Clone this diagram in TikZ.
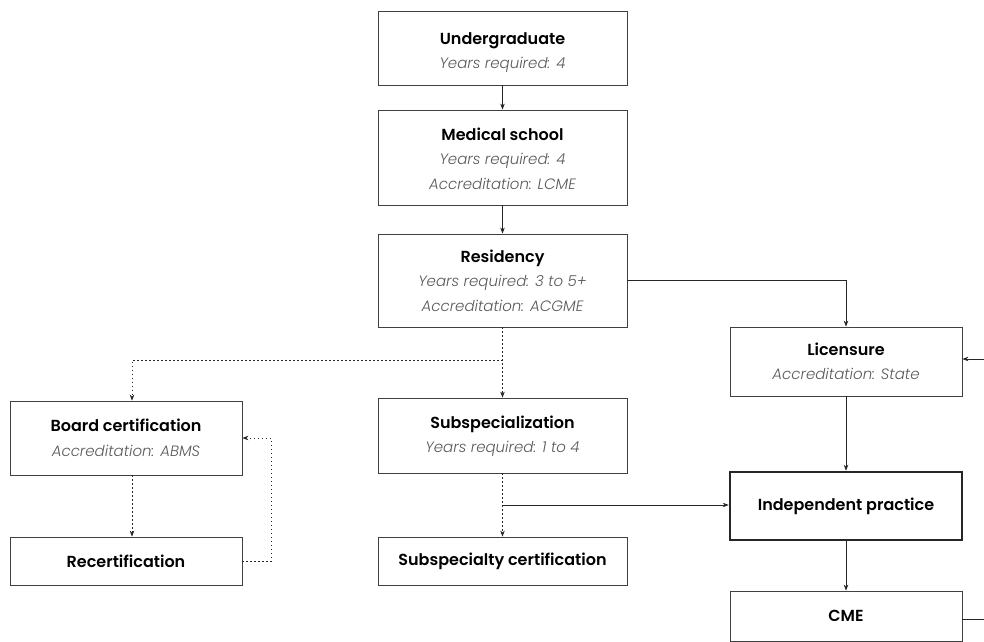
\documentclass[tikz,border=0pt]{standalone}
\usepackage{fontspec}
\setmainfont{Poppins}[ItalicFont={Poppins Light Italic},BoldFont={Poppins SemiBold}]
\usetikzlibrary{arrows.meta}
\newcommand{\ttl}[1]{{\fontsize{16}{24}\selectfont\bfseries #1}}
\newcommand{\sub}[1]{\\{\itshape\color{black!65}#1}}
\begin{document}
\begin{tikzpicture}[x=1pt,y=-1pt,
  box/.style={draw=black!75,line width=0.8pt,minimum width=249pt,align=center,inner sep=0pt,
    font=\fontsize{15}{24.5}\selectfont},
  boxn/.style={box,minimum width=232pt},
  arr/.style={-{Stealth[length=6pt,width=4.5pt]},line width=0.7pt,draw=black!85},
  darr/.style={arr,dash pattern=on 1.1pt off 2.9pt},
  ln/.style={line width=0.7pt,draw=black!85}]
\useasboundingbox (0,0) rectangle (984,641);
\node[box,minimum height=74pt] (ug) at (502.5,48) {\rule{0pt}{21pt}\ttl{Undergraduate}\sub{Years required: 4}};
\node[box,minimum height=95pt] (med) at (502.5,157.5) {\rule{0pt}{15pt}\ttl{Medical school}\sub{Years required: 4}\sub{Accreditation: LCME}};
\node[box,minimum height=93pt] (res) at (502.5,280.5) {\ttl{Residency}\sub{Years required: 3 to 5+}\sub{Accreditation: ACGME}};
\node[boxn,minimum height=69pt] (lic) at (846,361.5) {\ttl{Licensure}\sub{Accreditation: State}};
\node[boxn,minimum height=74pt] (board) at (126,438) {\ttl{Board certification}\sub{Accreditation: ABMS}};
\node[box,minimum height=75pt] (spec) at (502.5,435.5) {\rule{0pt}{14pt}\ttl{Subspecialization}\sub{Years required: 1 to 4}};
\node[boxn,minimum height=68pt,line width=2.6pt,draw=black!85] (ind) at (846,506) {\ttl{Independent practice}};
\node[boxn,minimum height=48pt] (rec) at (126,561) {\ttl{Recertification}};
\node[box,minimum height=48pt] (scert) at (502.5,561) {\ttl{Subspecialty certification}};
\node[boxn,minimum height=50pt] (cme) at (846,616) {\ttl{CME}};
% solid
\draw[arr] (ug) -- (med);
\draw[arr] (med) -- (res);
\draw[arr] (res.east) -| (lic.north);
\draw[arr] (lic) -- (ind);
\draw[arr] (ind) -- (cme);
\coordinate (cmeR) at (984,619);
\coordinate (licR) at (984,359);
\draw[ln] (cme.east |- cmeR) -- (cmeR);
\draw[arr] (licR) -- (lic.east |- licR);
% dotted
\coordinate (br) at (502.5,360);
\draw[darr] (res.south) -- (spec.north);
\draw[darr] (br) -| ([xshift=6pt]board.north);
\draw[darr] ([xshift=6pt]board.south) -- ([xshift=6pt]rec.north);
\coordinate (lp) at (271,561);
\draw[darr] (rec.east) -- (lp) |- (board.east);
\draw[darr] (spec.south) -- (scert.north);
\coordinate (sb) at (502.5,505);
\draw[arr] (sb) -- (ind.west |- sb);
\end{tikzpicture}
\end{document}
